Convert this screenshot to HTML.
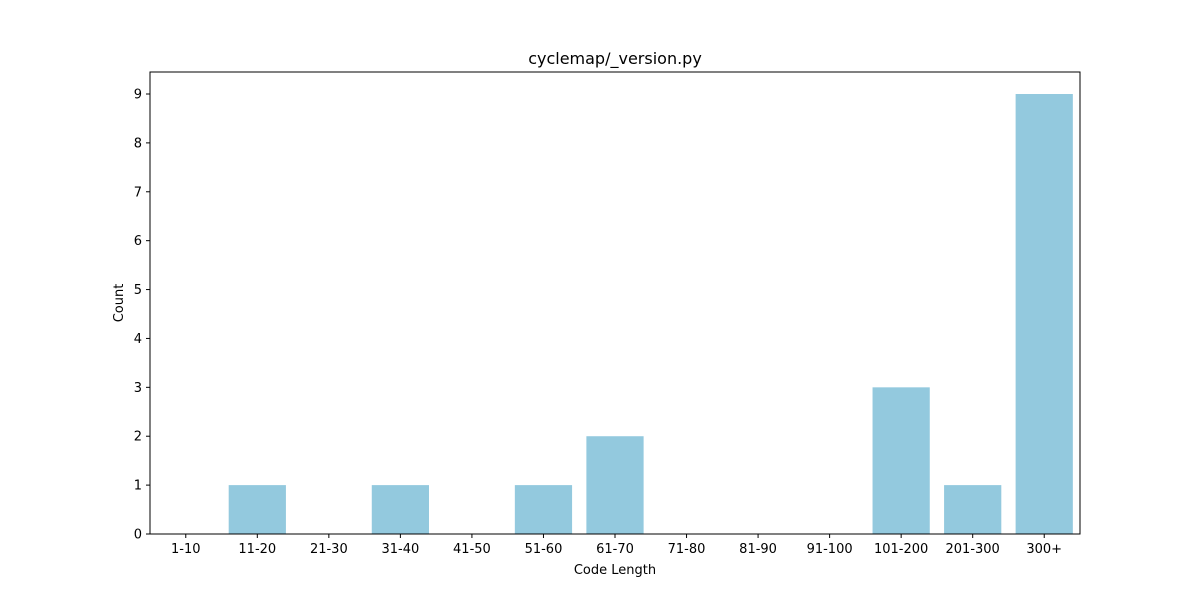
<!DOCTYPE html>
<html><head><meta charset="utf-8"><style>
body{margin:0;background:#fff;}
svg text{font-family:"DejaVu Sans","Liberation Sans",sans-serif;fill:#000;}
</style></head><body>
<svg id="chart" width="1200" height="600" xmlns="http://www.w3.org/2000/svg">
<rect width="1200" height="600" fill="#fff"/>
<text x="615" y="64" text-anchor="middle" font-size="16">cyclemap/_version.py</text>
<g id="bars"></g>
<g id="axes"></g>
<text x="615" y="574" text-anchor="middle" font-size="13">Code Length</text>
<text transform="translate(123,303) rotate(-90)" text-anchor="middle" font-size="13">Count</text>
</svg>
<script>
const categories=["1-10","11-20","21-30","31-40","41-50","51-60","61-70","71-80","81-90","91-100","101-200","201-300","300+"];
const counts=[0,1,0,1,0,1,2,0,0,0,3,1,9];
const yTicks=[0,1,2,3,4,5,6,7,8,9];
const L=150,R=1080,T=72,B=534,YMAX=9.45;
const NS="http://www.w3.org/2000/svg";
const step=(R-L)/categories.length;
const xc=i=>L+step*(i+0.5);
const y=v=>B-(v/YMAX)*(B-T);
const bars=document.getElementById('bars'),axes=document.getElementById('axes');
function mk(tag,attrs,parent){const e=document.createElementNS(NS,tag);for(const k in attrs)e.setAttribute(k,attrs[k]);parent.appendChild(e);return e;}
counts.forEach((v,i)=>{
  const r=mk('rect',{x:xc(i)-step*0.4,y:y(v),width:step*0.8,height:B-y(v),fill:'#93c9de'},bars);
  
  
});
const frame=mk('rect',{x:L,y:T,width:R-L,height:B-T,fill:'none',stroke:'#000','stroke-width':1},axes);


categories.forEach((c,i)=>{
  mk('line',{x1:xc(i),x2:xc(i),y1:B,y2:B+4,stroke:'#000'},axes);
  const t=mk('text',{x:xc(i),y:B+19,'text-anchor':'middle','font-size':13},axes);
  t.textContent=c;
  
  
});
yTicks.forEach(v=>{
  mk('line',{x1:L-4,x2:L,y1:y(v),y2:y(v),stroke:'#000'},axes);
  const t=mk('text',{x:L-8,y:y(v)+4.5,'text-anchor':'end','font-size':13},axes);
  t.textContent=v;
  
  
});
</script>
</body></html>
